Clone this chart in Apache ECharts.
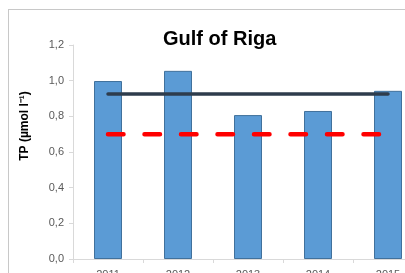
<!DOCTYPE html>
<html>
<head>
<meta charset="utf-8">
<script src="https://cdn.jsdelivr.net/npm/echarts@6/dist/echarts.min.js"></script>
<style>
html, body { margin: 0; padding: 0; background: #fff; overflow: hidden; width: 405px; height: 273px; }
#frame { position: absolute; left: 8px; top: 9px; width: 440px; height: 300px; border: 1px solid #c8c8c8; }
#main { width: 440px; height: 300px; }
</style>
</head>
<body>
<div id="frame"><div id="main"></div></div>
<script>
// years on the x axis
const years = ['2011', '2012', '2013', '2014', '2015'];
// TP per year (bars)
const tpValues = [0.998, 1.055, 0.807, 0.830, 0.943];
// mean over the period (solid dark line)
const meanValues = [0.925, 0.925, 0.925, 0.925, 0.925];
// target value (red dashed line)
const targetValues = [0.70, 0.70, 0.70, 0.70, 0.70];
// y ticks
const yMin = 0, yMax = 1.2, yStep = 0.2;

const chart = echarts.init(document.getElementById('main'));

chart.setOption({
    animation: false,
    title: {
        text: 'Gulf of Riga',
        left: 149,
        top: 14,
        textStyle: {
            fontFamily: 'Liberation Sans',
            fontWeight: 'bold',
            fontSize: 20,
            color: '#000'
        }
    },
    grid: {
        left: 64,
        top: 35,
        width: 350,
        height: 214
    },
    xAxis: {
        type: 'category',
        data: years,
        axisLine: { lineStyle: { color: '#d9d9d9' } },
        axisTick: { show: true, length: 4, lineStyle: { color: '#d9d9d9' } },
        axisLabel: { color: '#595959', fontSize: 11, margin: 10, fontFamily: 'Liberation Sans' }
    },
    yAxis: {
        type: 'value',
        min: yMin,
        max: yMax,
        interval: yStep,
        name: 'TP (µmol l⁻¹)',
        nameLocation: 'middle',
        nameRotate: 90,
        nameGap: 42,
        nameTextStyle: {
            fontFamily: 'Liberation Sans',
            fontWeight: 'bold',
            fontSize: 12,
            color: '#000',
            padding: [0, 0, 0, 52]
        },
        splitLine: { show: false },
        axisLine: { show: true, lineStyle: { color: '#d9d9d9' } },
        axisTick: { show: true, length: 4, lineStyle: { color: '#d9d9d9' } },
        axisLabel: {
            color: '#595959',
            fontSize: 11,
            margin: 9,
            fontFamily: 'Liberation Sans',
            formatter: v => v.toFixed(1).replace('.', ',')
        }
    },
    series: [
        {
            type: 'bar',
            data: tpValues,
            barWidth: '40%',
            itemStyle: { color: '#5b9bd5', borderColor: '#41719c', borderWidth: 1 }
        },
        {
            type: 'line',
            data: meanValues,
            symbol: 'none',
            lineStyle: { color: '#2e3c4c', width: 3.5, cap: 'round' }
        },
        {
            type: 'line',
            data: targetValues,
            symbol: 'none',
            lineStyle: { color: '#ff0000', width: 4.5, type: [15.5, 21], cap: 'round' }
        }
    ]
});
</script>
</body>
</html>
